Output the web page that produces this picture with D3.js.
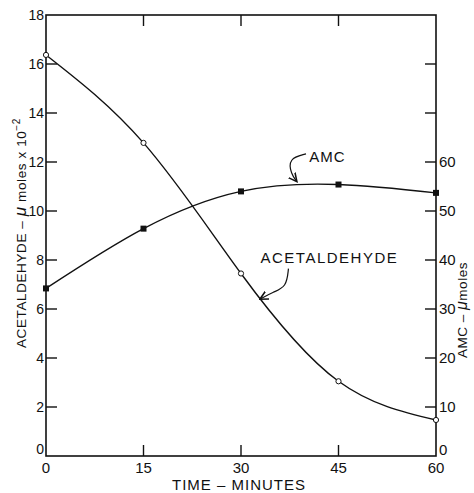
<!DOCTYPE html>
<html>
<head>
<meta charset="utf-8">
<script src="https://cdn.jsdelivr.net/npm/d3@7"></script>
<style>
  body { margin: 0; background: #fff; }
  text { font-family: "Liberation Sans", Arial, sans-serif; fill: #111; }
</style>
</head>
<body>
<div id="chart"></div>
<script>
// time points (minutes)
const minutes = [0, 15, 30, 45, 60];
// acetaldehyde, umoles x 10^-2 (left axis)
const acetaldehyde = [16.37, 12.78, 7.45, 3.05, 1.47];
// AMC, umoles (right axis)
const amc = [34.2, 46.4, 54.0, 55.4, 53.7];

const xTicks = [0, 15, 30, 45, 60];
const leftTicks = [0, 2, 4, 6, 8, 10, 12, 14, 16, 18];
const rightTicks = [0, 10, 20, 30, 40, 50, 60, 70, 80];
const rightLabels = [0, 10, 20, 30, 40, 50, 60];

const width = 474, height = 493;
const margin = { top: 15, right: 38, bottom: 37, left: 46 };

const svg = d3.select("#chart")
  .append("svg")
  .attr("width", width)
  .attr("height", height);

const x = d3.scaleLinear().domain([0, 60]).range([margin.left, width - margin.right]);
const yL = d3.scaleLinear().domain([0, 18]).range([height - margin.bottom, margin.top]);
const yR = d3.scaleLinear().domain([0, 90]).range([height - margin.bottom, margin.top]);

const x0 = x(0), x1 = x(60), yb = yL(0), yt = yL(18);

// frame
svg.append("rect")
  .attr("x", x0).attr("y", yt)
  .attr("width", x1 - x0).attr("height", yb - yt)
  .attr("fill", "none")
  .attr("stroke", "#111")
  .attr("stroke-width", 1.6);

const tickLen = 11;

// left ticks (inward)
svg.append("g").selectAll("line")
  .data(leftTicks.filter(d => d > 0 && d < 18))
  .join("line")
  .attr("x1", x0).attr("x2", x0 + tickLen)
  .attr("y1", d => yL(d)).attr("y2", d => yL(d))
  .attr("stroke", "#111").attr("stroke-width", 1.4);

svg.append("g").selectAll("text")
  .data(leftTicks)
  .join("text")
  .attr("x", x0 - 2)
  .attr("y", d => yL(d) + (d === 0 ? -2 : 5))
  .attr("text-anchor", "end")
  .style("font-size", "14px")
  .text(d => d);

// right ticks (inward)
svg.append("g").selectAll("line")
  .data(rightTicks.filter(d => d > 0))
  .join("line")
  .attr("x1", x1 - tickLen).attr("x2", x1)
  .attr("y1", d => yR(d)).attr("y2", d => yR(d))
  .attr("stroke", "#111").attr("stroke-width", 1.4);

svg.append("g").selectAll("text")
  .data(rightLabels)
  .join("text")
  .attr("x", x1 + 3)
  .attr("y", d => yR(d) + (d === 0 ? -1 : 5))
  .attr("text-anchor", "start")
  .style("font-size", "15px")
  .text(d => d);

// bottom and top ticks
const innerX = xTicks.filter(d => d > 0 && d < 60);
svg.append("g").selectAll("line")
  .data(innerX)
  .join("line")
  .attr("x1", d => x(d)).attr("x2", d => x(d))
  .attr("y1", yb).attr("y2", yb - tickLen)
  .attr("stroke", "#111").attr("stroke-width", 1.4);

svg.append("g").selectAll("line")
  .data(innerX)
  .join("line")
  .attr("x1", d => x(d)).attr("x2", d => x(d))
  .attr("y1", yt).attr("y2", yt + tickLen)
  .attr("stroke", "#111").attr("stroke-width", 1.4);

svg.append("g").selectAll("text")
  .data(xTicks)
  .join("text")
  .attr("x", d => x(d))
  .attr("y", yb + 17)
  .attr("text-anchor", "middle")
  .style("font-size", "15px")
  .text(d => d);

// axis titles
svg.append("text")
  .attr("x", (x0 + x1) / 2 - 2)
  .attr("y", height - 3)
  .attr("text-anchor", "middle")
  .style("font-size", "15px")
  .style("letter-spacing", "1px")
  .text("TIME \u2013 MINUTES");

const leftTitle = svg.append("text")
  .attr("transform", `translate(26, 233) rotate(-90)`)
  .attr("text-anchor", "middle")
  .style("font-size", "13.5px")
  .style("letter-spacing", "0.6px");
leftTitle.append("tspan").text("ACETALDEHYDE \u2013 ");
leftTitle.append("tspan").style("font-style", "italic").style("font-size", "17px").text("\u03bc");
leftTitle.append("tspan").text(" moles x 10");
leftTitle.append("tspan").attr("dy", -6).style("font-size", "10px").text("\u22122");

const rightTitle = svg.append("text")
  .attr("transform", `translate(467, 310) rotate(-90)`)
  .attr("text-anchor", "middle")
  .style("font-size", "13.5px")
  .style("letter-spacing", "0.5px");
rightTitle.append("tspan").text("AMC \u2013 ");
rightTitle.append("tspan").style("font-style", "italic").style("font-size", "16px").text("\u03bc");
rightTitle.append("tspan").text("moles");

// curves
const acetLine = d3.line()
  .x((d, i) => x(minutes[i]))
  .y(d => yL(d))
  .curve(d3.curveNatural);

const amcLine = d3.line()
  .x((d, i) => x(minutes[i]))
  .y(d => yR(d))
  .curve(d3.curveNatural);

svg.append("path")
  .datum(acetaldehyde)
  .attr("d", acetLine)
  .attr("fill", "none")
  .attr("stroke", "#111")
  .attr("stroke-width", 1.4);

svg.append("path")
  .datum(amc)
  .attr("d", amcLine)
  .attr("fill", "none")
  .attr("stroke", "#111")
  .attr("stroke-width", 1.4);

svg.append("g").selectAll("circle")
  .data(acetaldehyde)
  .join("circle")
  .attr("cx", (d, i) => x(minutes[i]))
  .attr("cy", d => yL(d))
  .attr("r", 2.6)
  .attr("fill", "#fff")
  .attr("stroke", "#111")
  .attr("stroke-width", 1);

const sq = 6;
svg.append("g").selectAll("rect")
  .data(amc)
  .join("rect")
  .attr("x", (d, i) => x(minutes[i]) - sq / 2)
  .attr("y", d => yR(d) - sq / 2)
  .attr("width", sq).attr("height", sq)
  .attr("fill", "#111");

// annotations (positions in data units)
svg.append("defs").append("marker")
  .attr("id", "arrow")
  .attr("viewBox", "0 0 8 8")
  .attr("refX", 7).attr("refY", 4)
  .attr("markerWidth", 8).attr("markerHeight", 8)
  .attr("orient", "auto")
  .append("path")
  .attr("d", "M0,0.5 L7,4 L0,7.5")
  .attr("fill", "none")
  .attr("stroke", "#111")
  .attr("stroke-width", 1.3);

const pointer = d3.line()
  .x(d => x(d[0]))
  .y(d => yL(d[1]))
  .curve(d3.curveBasis);

svg.append("text")
  .attr("x", x(40.5))
  .attr("y", yL(12.0))
  .style("font-size", "15px")
  .style("letter-spacing", "1px")
  .text("AMC");

svg.append("path")
  .datum([[40.0, 12.33], [37.3, 12.15], [37.7, 11.5], [38.6, 11.2]])
  .attr("d", pointer)
  .attr("fill", "none")
  .attr("stroke", "#111")
  .attr("stroke-width", 1.2)
  .attr("marker-end", "url(#arrow)");

svg.append("text")
  .attr("x", x(33.0))
  .attr("y", yL(7.88))
  .style("font-size", "15px")
  .style("letter-spacing", "1.5px")
  .text("ACETALDEHYDE");

svg.append("path")
  .datum([[37.3, 7.65], [37.0, 6.9], [35.0, 6.7], [32.9, 6.4]])
  .attr("d", pointer)
  .attr("fill", "none")
  .attr("stroke", "#111")
  .attr("stroke-width", 1.2)
  .attr("marker-end", "url(#arrow)");
</script>
</body>
</html>
